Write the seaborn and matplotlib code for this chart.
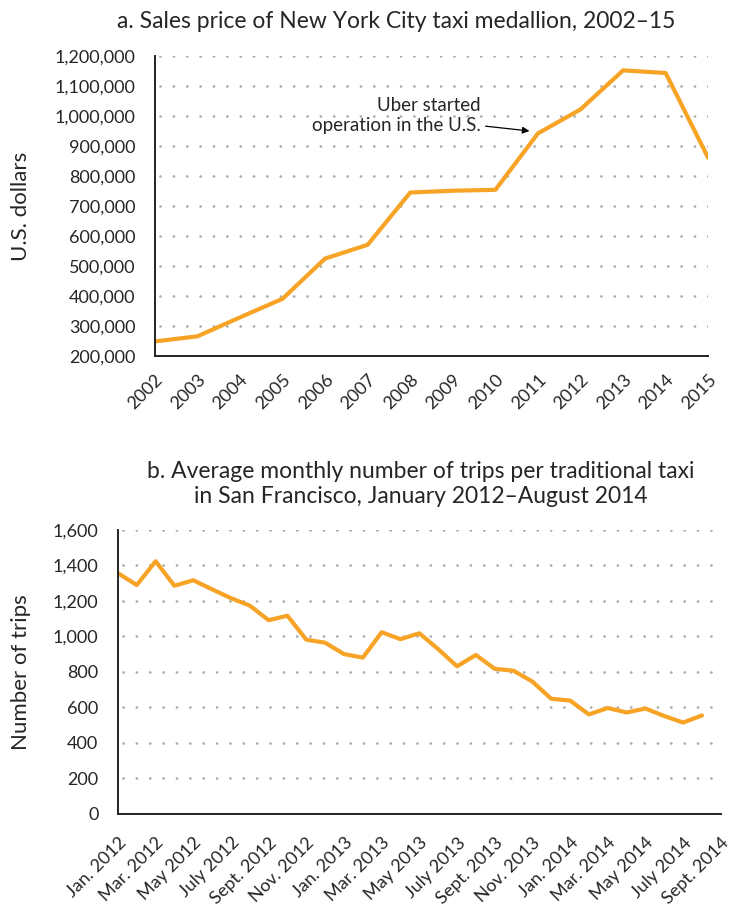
import numpy as np
import pandas as pd
import matplotlib
matplotlib.use("Agg")
import matplotlib.pyplot as plt
import seaborn as sns
from matplotlib.ticker import FuncFormatter, MultipleLocator

# panel a: NYC medallion price
years = list(range(2002, 2016))
price = [250000, 267000, 330000, 392000, 526000, 572000, 746000, 752000,
         755000, 943000, 1023000, 1153000, 1144000, 861000]

# panel b: SF average monthly trips per taxi, Jan 2012 - Aug 2014
trips = [1355, 1288, 1422, 1284, 1315, 1264, 1214, 1172, 1090, 1115, 980, 963,
         899, 879, 1022, 983, 1016, 927, 830, 894, 816, 805, 744, 647,
         637, 559, 595, 570, 592, 550, 513, 553]
month_labels = ["Jan. 2012", "Mar. 2012", "May 2012", "July 2012", "Sept. 2012",
                "Nov. 2012", "Jan. 2013", "Mar. 2013", "May 2013", "July 2013",
                "Sept. 2013", "Nov. 2013", "Jan. 2014", "Mar. 2014", "May 2014",
                "July 2014", "Sept. 2014"]

ORANGE = "#F7A325"
sns.set_style("white")
plt.rcParams["font.family"] = ["Lato", "DejaVu Sans"]
plt.rcParams["font.size"] = 13

fig = plt.figure(figsize=(7.37, 9.07), dpi=100)
ax1 = fig.add_axes([0.210, 0.607, 0.751, 0.331])
ax2 = fig.add_axes([0.160, 0.103, 0.818, 0.313])

grid_kw = dict(color="#ababab", linewidth=2.0, linestyle=(3, (0.01, 4.8)),
               dash_capstyle="round")


def style(ax):
    for s in ["top", "right"]:
        ax.spines[s].set_visible(False)
    for s in ["left", "bottom"]:
        ax.spines[s].set_linewidth(1.4)
        ax.spines[s].set_color("#222222")
    ax.set_axisbelow(True)
    ax.yaxis.grid(True, **grid_kw)
    ax.xaxis.grid(False)
    ax.tick_params(axis="both", which="major", direction="out", length=9,
                   width=1.2, color="#222222", labelsize=13, pad=2)
    ax.tick_params(axis="y", pad=5)


# --- panel a
df1 = pd.DataFrame({"year": years, "price": price})
sns.lineplot(data=df1, x="year", y="price", ax=ax1, color=ORANGE, linewidth=3)
ax1.set_xlim(2002, 2015)
ax1.set_ylim(200000, 1200000)
ax1.set_xticks(years)
ax1.set_xticklabels([str(y) for y in years], rotation=45, ha="right",
                    rotation_mode="anchor")
ax1.yaxis.set_major_locator(MultipleLocator(100000))
ax1.yaxis.set_major_formatter(FuncFormatter(lambda v, p: f"{int(v):,}"))
style(ax1)
ax1.set_xlabel("")
ax1.set_ylabel("U.S. dollars", fontsize=16)
ax1.yaxis.set_label_coords(-124 / 553, 0.5)
ax1.text(2009.66, 1003000, "Uber started\noperation in the U.S.", ha="right",
         va="center", multialignment="right", fontsize=13.5, linespacing=1.2)
ax1.annotate("", xy=(2010.8, 951000), xytext=(2009.77, 967000),
             arrowprops=dict(arrowstyle="-|>", color="black", lw=0.9,
                             mutation_scale=10, shrinkA=0, shrinkB=0))
fig.text(396 / 737, 1 - 22 / 907, "a. Sales price of New York City taxi medallion, 2002–15",
         ha="center", va="center", fontsize=16.5)

# --- panel b
df2 = pd.DataFrame({"month": np.arange(len(trips)), "trips": trips})
sns.lineplot(data=df2, x="month", y="trips", ax=ax2, color=ORANGE, linewidth=3)
ax2.set_xlim(0, 32)
ax2.set_ylim(0, 1600)
ax2.set_xticks(np.arange(0, 33, 2))
ax2.set_xticks(np.arange(1, 33, 2), minor=True)
ax2.set_xticklabels(month_labels, rotation=45, ha="right", rotation_mode="anchor",
                    fontsize=11)
ax2.yaxis.set_major_locator(MultipleLocator(200))
ax2.yaxis.set_major_formatter(FuncFormatter(lambda v, p: f"{int(v):,}"))
style(ax2)
ax2.tick_params(axis="x", which="major", length=14, pad=1)
ax2.tick_params(axis="x", which="minor", length=9, width=1.2, color="#222222")
ax2.set_xlabel("")
ax2.set_ylabel("Number of trips", fontsize=16)
ax2.yaxis.set_label_coords(-87 / 603, 0.5)
fig.text(421 / 737, 1 - 484 / 907,
         "b. Average monthly number of trips per traditional taxi\nin San Francisco, January 2012–August 2014",
         ha="center", va="center", fontsize=16.5, linespacing=1.25)

fig.savefig("out.png", dpi=100)
